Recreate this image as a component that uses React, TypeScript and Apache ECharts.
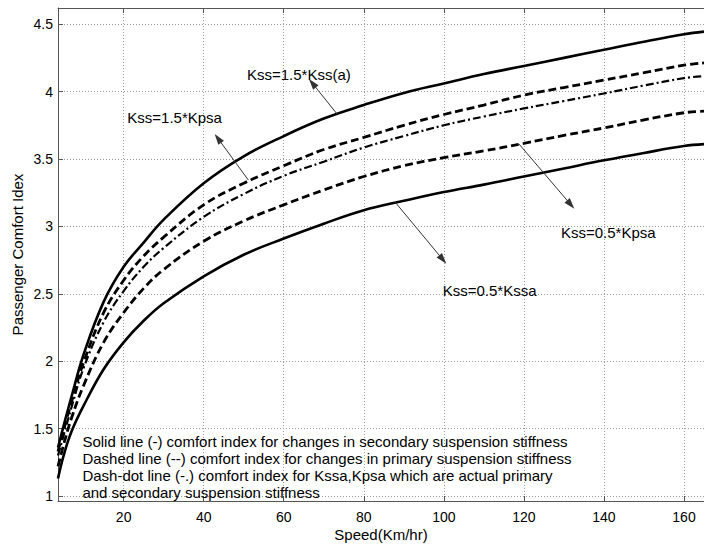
import React, { useEffect, useRef } from "react";
import * as echarts from "echarts";

const FONT = '"Liberation Sans", Arial, Helvetica, sans-serif';

// Speed (km/hr) sample points
const speed = [3.6, 5, 7, 10, 15, 20, 25, 30, 40, 50, 60, 70, 80, 90, 100, 110, 120, 130, 140, 150, 160, 165];
// Kss = 1.5*Kss(a)  (solid, upper)
const kssHigh = [1.36, 1.52, 1.74, 2.05, 2.44, 2.7, 2.88, 3.05, 3.32, 3.52, 3.67, 3.8, 3.9, 3.99, 4.06, 4.13, 4.19, 4.25, 4.31, 4.37, 4.425, 4.445];
// Kss = 1.5*Kpsa  (dashed, upper)
const kpsHigh = [1.33, 1.49, 1.7, 1.99, 2.36, 2.6, 2.78, 2.92, 3.16, 3.32, 3.45, 3.57, 3.66, 3.75, 3.83, 3.9, 3.974, 4.03, 4.085, 4.14, 4.196, 4.213];
// Kssa, Kpsa actual (dash-dot)
const actual = [1.3, 1.45, 1.66, 1.95, 2.29, 2.52, 2.7, 2.84, 3.07, 3.24, 3.375, 3.48, 3.585, 3.67, 3.75, 3.815, 3.875, 3.93, 3.986, 4.045, 4.1, 4.114];
// Kss = 0.5*Kpsa  (dashed, lower)
const kpsLow = [1.22, 1.38, 1.58, 1.82, 2.14, 2.36, 2.54, 2.68, 2.89, 3.04, 3.16, 3.27, 3.37, 3.45, 3.51, 3.56, 3.616, 3.675, 3.73, 3.79, 3.843, 3.855];
// Kss = 0.5*Kssa  (solid, lower)
const kssLow = [1.13, 1.3, 1.48, 1.67, 1.94, 2.14, 2.3, 2.43, 2.63, 2.79, 2.91, 3.02, 3.12, 3.19, 3.255, 3.31, 3.37, 3.43, 3.49, 3.545, 3.596, 3.61];

const xTicks = [20, 40, 60, 80, 100, 120, 140, 160];
const yTicks = [1, 1.5, 2, 2.5, 3, 3.5, 4, 4.5];

// annotation arrows in data coordinates: [from, to]
const arrows: [number[], number[]][] = [
  [[73.31, 3.834], [67.16, 4.062]],
  [[51.15, 3.344], [43.55, 3.653]],
  [[118.78, 3.611], [131.7, 3.162]],
  [[87.8, 3.181], [99.74, 2.754]],
];
const annotations: { text: string; at: number[] }[] = [
  { text: "Kss=1.5*Kss(a)", at: [50.82, 4.13] },
  { text: "Kss=1.5*Kpsa", at: [20.91, 3.811] },
  { text: "Kss=0.5*Kpsa", at: [129.27, 2.951] },
  { text: "Kss=0.5*Kssa", at: [99.71, 2.521] },
];
const noteLines = [
  "Solid line (-) comfort index for changes in secondary suspension stiffness",
  "Dashed line (--) comfort index for changes in primary suspension stiffness",
  "Dash-dot line (-.) comfort index for Kssa,Kpsa which are actual primary",
  "and secondary suspension stiffness",
];
const noteAt = [9.7, 1.471];

const pairs = (ys: number[]) => speed.map((s, i) => [s, ys[i]]);

export default function App() {
  const ref = useRef<HTMLDivElement>(null);
  useEffect(() => {
    if (!ref.current) return;
    const chart = echarts.init(ref.current, undefined, { renderer: "svg" });
    const axisColor = "#555";
    const gridLine = { show: true, lineStyle: { color: "#9a9a9a", width: 1, type: [1, 2] as any } };
    const line = (name: string, data: number[], type: any, width: number, extra: any = {}) => ({
      name,
      type: "line",
      data: pairs(data),
      showSymbol: false,
      symbol: "none",
      smooth: 0.4,
      silent: true,
      lineStyle: { color: "#000", width, type },
      z: 3,
      ...extra,
    });
    chart.setOption({
      animation: false,
      backgroundColor: "#fff",
      grid: { left: 58, top: 8, right: 0, bottom: 43, containLabel: false, outerBoundsMode: "none" },
      xAxis: [
        {
          type: "value",
          min: 3.6,
          max: 165,
          position: "bottom",
          axisLine: { show: true, lineStyle: { color: axisColor, width: 1 } },
          axisTick: { show: true, inside: true, length: 5, customValues: xTicks, lineStyle: { color: axisColor } },
          axisLabel: { customValues: xTicks, color: "#000", fontSize: 14, fontFamily: FONT, margin: 9 },
          splitLine: gridLine,
          name: "Speed(Km/hr)",
          nameLocation: "middle",
          nameGap: 26,
          nameMoveOverlap: false,
          nameTextStyle: { color: "#000", fontSize: 15, fontFamily: FONT },
        },
        {
          type: "value",
          min: 3.6,
          max: 165,
          position: "top",
          axisLine: { show: true, onZero: false, lineStyle: { color: axisColor, width: 1 } },
          axisTick: { show: true, inside: true, length: 5, customValues: xTicks, lineStyle: { color: axisColor } },
          axisLabel: { show: false },
          splitLine: { show: false },
        },
      ],
      yAxis: [
        {
          type: "value",
          min: 0.963,
          max: 4.62,
          axisLine: { show: true, lineStyle: { color: axisColor, width: 1 } },
          axisTick: { show: true, inside: true, length: 5, customValues: yTicks, lineStyle: { color: axisColor } },
          axisLabel: { customValues: yTicks, color: "#000", fontSize: 14, fontFamily: FONT, margin: 5 },
          splitLine: gridLine,
          name: "Passenger Comfort Idex",
          nameLocation: "middle",
          nameGap: 33,
          nameMoveOverlap: false,
          nameRotate: 90,
          nameTextStyle: { color: "#000", fontSize: 15, fontFamily: FONT },
        },
      ],
      series: [
        line("Kss=1.5*Kss(a)", kssHigh, "solid", 2.6, {
          markLine: {
            silent: true,
            symbol: ["none", "triangle"],
            label: { show: false },
            lineStyle: { color: "#333", width: 1, type: "solid" },
            emphasis: { disabled: true },
            data: arrows.map(([a, b]) => [
              { coord: a, symbol: "none" },
              { coord: b, symbol: "triangle", symbolSize: [7, 11] },
            ]),
          },
        }),
        line("Kss=1.5*Kpsa", kpsHigh, [8, 4], 2.8),
        line("Actual", actual, [8, 3, 2, 3], 2.2),
        line("Kss=0.5*Kpsa", kpsLow, [8, 4], 2.8),
        line("Kss=0.5*Kssa", kssLow, "solid", 2.6),
      ],
    });
    const toPx = (p: number[]) => chart.convertToPixel({ xAxisIndex: 0, yAxisIndex: 0 }, p) as number[];
    const notePx = toPx(noteAt);
    chart.setOption({
      graphic: [
        ...annotations.map((a) => {
          const p = toPx(a.at);
          return {
            type: "text",
            x: p[0],
            y: p[1],
            silent: true,
            z: 10,
            style: { text: a.text, fill: "#000", fontSize: 15, fontFamily: FONT, align: "left", verticalAlign: "middle" },
          };
        }),
        {
          type: "text",
          x: notePx[0],
          y: notePx[1],
          silent: true,
          z: 10,
          style: {
            text: noteLines.join("\n"),
            fill: "#000",
            fontSize: 15,
            lineHeight: 17,
            fontFamily: FONT,
            align: "left",
            verticalAlign: "top",
          },
        },
      ],
    });
    return () => chart.dispose();
  }, []);
  return <div ref={ref} style={{ position: "absolute", left: 0, top: 0, width: 704, height: 544, background: "#fff" }} />;
}
